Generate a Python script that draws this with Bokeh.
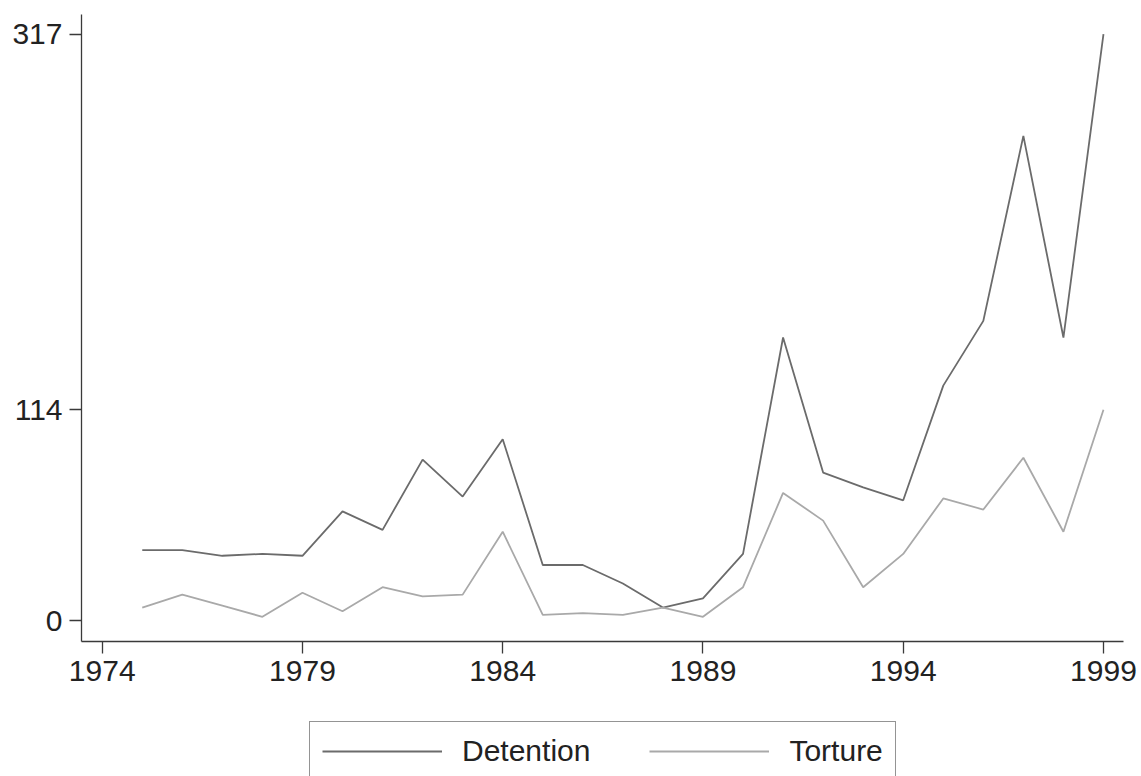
import numpy as np
from bokeh.plotting import figure
from bokeh.models import Range1d, FixedTicker, Legend, LegendItem
from bokeh.layouts import column
from bokeh.embed import file_html
from bokeh.resources import INLINE

years = list(range(1975, 2000))
detention = [38, 38, 35, 36, 35, 59, 49, 87, 67, 98, 30, 30, 20, 7, 12, 36,
             153, 80, 72, 65, 127, 162, 262, 153, 317]
torture = [7, 14, 8, 2, 15, 5, 18, 13, 14, 48, 3, 4, 3, 7, 2, 18,
           69, 54, 18, 36, 66, 60, 88, 48, 114]
x_ticks = [1974, 1979, 1984, 1989, 1994, 1999]
y_ticks = [0, 114, 317]
series_names = ["Detention", "Torture"]
series_colors = ["#6b6b6b", "#a9a9a9"]

FONT = "Liberation Sans"

p = figure(frame_width=1042, frame_height=627, output_backend="svg",
           toolbar_location=None,
           x_range=Range1d(1973.483, 1999.5), y_range=Range1d(-11.35, 327.65),
           min_border_left=81, min_border_right=18, min_border_top=14,
           min_border_bottom=59)
p.outline_line_color = None
p.xgrid.grid_line_color = None
p.ygrid.grid_line_color = None
p.background_fill_color = "white"
p.border_fill_color = "white"

for ax, ticks in ((p.xaxis, x_ticks), (p.yaxis, y_ticks)):
    ax.ticker = FixedTicker(ticks=ticks)
    ax.major_label_overrides = {t: str(t) for t in ticks}
    ax.axis_line_color = "#3a3a3a"
    ax.axis_line_width = 1.3
    ax.major_tick_line_color = "#3a3a3a"
    ax.major_tick_line_width = 1.3
    ax.major_tick_out = 12
    ax.major_tick_in = 0
    ax.minor_tick_line_color = None
    ax.major_label_standoff = 7
    ax.major_label_text_font = FONT
    ax.major_label_text_font_size = "30px"
    ax.major_label_text_color = "#222222"

p.line(years, detention, line_color=series_colors[0], line_width=1.8)
p.line(years, torture, line_color=series_colors[1], line_width=1.8)

# legend strip below the chart (its frame is aligned with the chart's frame)
lg = figure(width=1141, height=76, output_backend="svg", toolbar_location=None,
            x_axis_type=None, y_axis_type=None,
            x_range=Range1d(0, 1), y_range=Range1d(0, 1),
            min_border=0)
lg.outline_line_color = None
lg.xgrid.grid_line_color = None
lg.ygrid.grid_line_color = None
lg.background_fill_color = "white"
lg.border_fill_color = "white"
nan = np.array([np.nan])
k1 = lg.line(x=nan, y=nan, line_color=series_colors[0], line_width=1.8)
k2 = lg.line(x=nan, y=nan, line_color=series_colors[1], line_width=1.8)

legend = Legend(items=[LegendItem(label=series_names[0], renderers=[k1]),
                       LegendItem(label=series_names[1], renderers=[k2])],
                orientation="horizontal", location=(228, -5),
                glyph_width=120, glyph_height=30, label_standoff=20,
                spacing=59, padding=12, margin=0,
                label_text_font=FONT, label_text_font_size="30px",
                label_text_color="#222222",
                border_line_color="#2a2a2a", border_line_width=1.3,
                background_fill_color="white", background_fill_alpha=1)
lg.add_layout(legend, "center")

layout = column(p, lg, spacing=0)
open("out.html", "w").write(file_html(layout, INLINE))
